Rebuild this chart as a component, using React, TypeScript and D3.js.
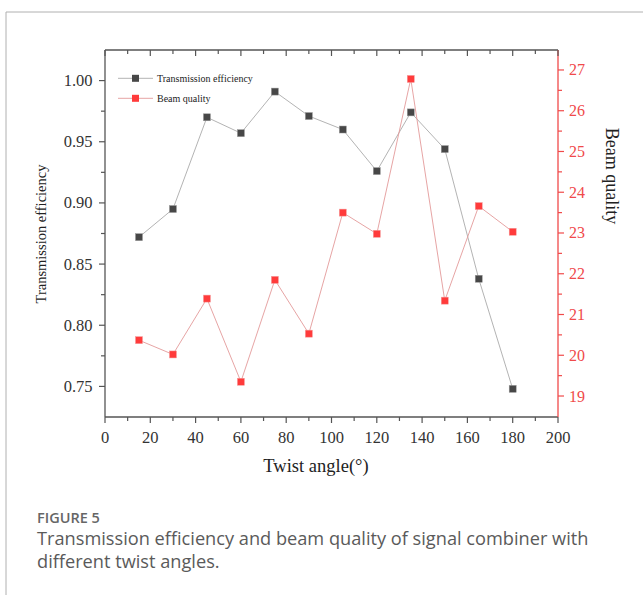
import React from "react";
import * as d3 from "d3";

const angles = [15, 30, 45, 60, 75, 90, 105, 120, 135, 150, 165, 180];
const transmission = [0.872, 0.895, 0.970, 0.957, 0.991, 0.971, 0.960, 0.926, 0.974, 0.944, 0.838, 0.748];
const beamQuality = [20.37, 20.02, 21.39, 19.35, 21.85, 20.53, 23.50, 22.98, 26.78, 21.34, 23.66, 23.03];
const xTicks = [0, 20, 40, 60, 80, 100, 120, 140, 160, 180, 200];
const leftTicks = [0.75, 0.8, 0.85, 0.9, 0.95, 1.0];
const rightTicks = [19, 20, 21, 22, 23, 24, 25, 26, 27];
const legendLabels = ["Transmission efficiency", "Beam quality"];

const W = 643, H = 595;
const L = 105, R = 558, T = 50, B = 417;
const serif = "'Liberation Serif', 'Times New Roman', serif";
const axisColor = "#555";
const red = "#f04a4a";
const redFill = "#ff3b3b";
const blackFill = "#474747";

export default function App() {
  const x = d3.scaleLinear().domain([0, 200]).range([L, R]);
  const yL = d3.scaleLinear().domain([0.725, 1.025]).range([B, T]);
  const yR = d3.scaleLinear().domain([18.485, 27.49]).range([B, T]);

  const xMinor = d3.range(10, 200, 20);
  const leftMinor = d3.range(0.775, 1.01, 0.05);
  const rightMinor = d3.range(19.5, 27.5, 1);

  const lineL = d3.line<number>().x((_, i) => x(angles[i])).y((d) => yL(d));
  const lineR = d3.line<number>().x((_, i) => x(angles[i])).y((d) => yR(d));

  const sq = 7;

  return (
    <svg width={W} height={H} style={{ position: "absolute", left: 0, top: 0, background: "#fff" }}>
      {/* page frame */}
      <line x1={6} y1={12} x2={W} y2={12} stroke="#b0b0b0" strokeWidth={1} />
      <line x1={6} y1={12} x2={6} y2={H} stroke="#b0b0b0" strokeWidth={1} />

      {/* axes lines */}
      <line x1={L} y1={B} x2={R} y2={B} stroke={axisColor} strokeWidth={1.3} />
      <line x1={L} y1={T} x2={R} y2={T} stroke={axisColor} strokeWidth={1.3} />
      <line x1={L} y1={T} x2={L} y2={B} stroke={axisColor} strokeWidth={1.3} />
      <line x1={R} y1={T} x2={R} y2={B} stroke={red} strokeWidth={1.3} />

      {/* x ticks bottom (outward) and top (inward) */}
      {xTicks.map((t) => (
        <g key={"xt" + t}>
          <line x1={x(t)} x2={x(t)} y1={B} y2={B + 6} stroke={axisColor} strokeWidth={1.2} />
          <line x1={x(t)} x2={x(t)} y1={T} y2={T + 6} stroke={axisColor} strokeWidth={1.2} />
          <text x={x(t)} y={443} textAnchor="middle" fontFamily={serif} fontSize={16.5} fill="#333">
            {t}
          </text>
        </g>
      ))}
      {xMinor.map((t) => (
        <g key={"xm" + t}>
          <line x1={x(t)} x2={x(t)} y1={B} y2={B + 4} stroke={axisColor} strokeWidth={1.2} />
          <line x1={x(t)} x2={x(t)} y1={T} y2={T + 4} stroke={axisColor} strokeWidth={1.2} />
        </g>
      ))}

      {/* left ticks */}
      {leftTicks.map((t) => (
        <g key={"lt" + t}>
          <line x1={L - 6} x2={L} y1={yL(t)} y2={yL(t)} stroke={axisColor} strokeWidth={1.2} />
          <text x={92.5} y={yL(t) + 5.5} textAnchor="end" fontFamily={serif} fontSize={16.5} fill="#333">
            {t.toFixed(2)}
          </text>
        </g>
      ))}
      {leftMinor.map((t) => (
        <line key={"lm" + t} x1={L - 4} x2={L} y1={yL(t)} y2={yL(t)} stroke={axisColor} strokeWidth={1.2} />
      ))}

      {/* right ticks */}
      {rightTicks.map((t) => (
        <g key={"rt" + t}>
          <line x1={R} x2={R + 6} y1={yR(t)} y2={yR(t)} stroke={red} strokeWidth={1.2} />
          <text x={569} y={yR(t) + 5.5} textAnchor="start" fontFamily={serif} fontSize={16} fill={red}>
            {t}
          </text>
        </g>
      ))}
      {rightMinor.map((t) => (
        <line key={"rm" + t} x1={R} x2={R + 4} y1={yR(t)} y2={yR(t)} stroke={red} strokeWidth={1.2} />
      ))}

      {/* axis titles */}
      <text x={316} y={472} textAnchor="middle" fontFamily={serif} fontSize={18.5} fill="#222">
        Twist angle(°)
      </text>
      <text
        transform={`translate(46,234) rotate(-90)`}
        textAnchor="middle"
        fontFamily={serif}
        fontSize={14.5}
        fill="#222"
      >
        Transmission efficiency
      </text>
      <text
        transform={`translate(606,176) rotate(90)`}
        textAnchor="middle"
        fontFamily={serif}
        fontSize={18}
        fill="#222"
      >
        Beam quality
      </text>

      {/* series lines */}
      <path d={lineL(transmission) || ""} fill="none" stroke="#aaaaaa" strokeWidth={0.9} />
      <path d={lineR(beamQuality) || ""} fill="none" stroke="#e39a9a" strokeWidth={0.9} />

      {/* markers */}
      {transmission.map((v, i) => (
        <rect
          key={"bm" + i}
          x={x(angles[i]) - sq / 2}
          y={yL(v) - sq / 2}
          width={sq}
          height={sq}
          fill={blackFill}
          stroke="#999"
          strokeWidth={0.5}
        />
      ))}
      {beamQuality.map((v, i) => (
        <rect
          key={"rm" + i}
          x={x(angles[i]) - sq / 2}
          y={yR(v) - sq / 2}
          width={sq}
          height={sq}
          fill={redFill}
          stroke="#f59a9a"
          strokeWidth={0.5}
        />
      ))}

      {/* legend */}
      {legendLabels.map((lab, i) => {
        const ly = 78.3 + i * 20;
        return (
          <g key={"lg" + i}>
            <line x1={118} x2={153} y1={ly} y2={ly} stroke={i === 0 ? "#aaaaaa" : "#e39a9a"} strokeWidth={0.9} />
            <rect x={135.5 - sq / 2} y={ly - sq / 2} width={sq} height={sq} fill={i === 0 ? blackFill : redFill} />
            <text x={157} y={ly + 3.5} fontFamily={serif} fontSize={10} fill="#222">
              {lab}
            </text>
          </g>
        );
      })}

      {/* caption */}
      <text x={37} y={523} fontFamily="'Open Sans', sans-serif" fontSize={14.5} fontWeight={600} fill="#666">
        FIGURE 5
      </text>
      <text x={37} y={545} fontFamily="'Open Sans', sans-serif" fontSize={18.2} fill="#5a5a5a">
        Transmission efficiency and beam quality of signal combiner with
      </text>
      <text x={37} y={568} fontFamily="'Open Sans', sans-serif" fontSize={18.2} fill="#5a5a5a">
        different twist angles.
      </text>
    </svg>
  );
}
